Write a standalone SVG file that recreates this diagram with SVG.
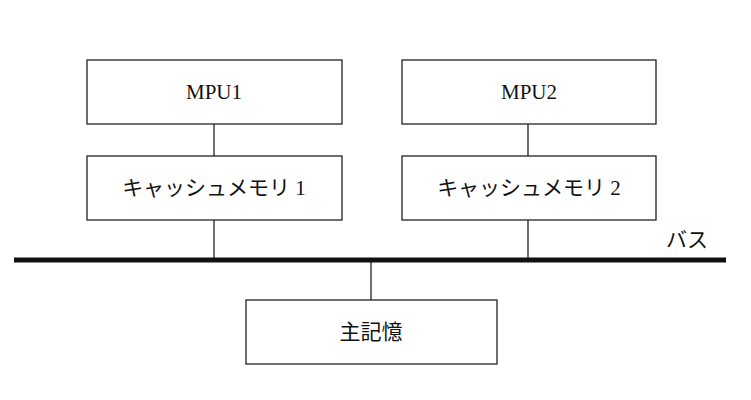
<svg xmlns="http://www.w3.org/2000/svg" width="751" height="400" viewBox="0 0 751 400">
<style>
.box{fill:#fff;stroke:#222;stroke-width:1.3}
.t{font-family:"Liberation Serif","Noto Sans CJK JP",serif;font-size:21px;fill:#111;text-anchor:middle;dominant-baseline:central}
.c{stroke:#222;stroke-width:1.3;fill:none}
</style>
<rect width="751" height="400" fill="#fff"/>
<g id="connectors">
<line class="c" x1="214" y1="124" x2="214" y2="156"/>
<line class="c" x1="214" y1="220" x2="214" y2="260"/>
<line class="c" x1="528" y1="124" x2="528" y2="156"/>
<line class="c" x1="528" y1="220" x2="528" y2="260"/>
<line class="c" x1="371" y1="260" x2="371" y2="300"/>
<line x1="14" y1="260" x2="726" y2="260" stroke="#111" stroke-width="5"/>
</g>
<g id="mpu1"><rect class="box" x="87" y="60" width="255" height="64"/><text class="t" x="214" y="92">MPU1</text></g>
<g id="mpu2"><rect class="box" x="402" y="60" width="254" height="64"/><text class="t" x="529" y="92">MPU2</text></g>
<g id="cache1"><rect class="box" x="87" y="156" width="255" height="64"/><text class="t" x="214" y="188">キャッシュメモリ 1</text></g>
<g id="cache2"><rect class="box" x="402" y="156" width="254" height="64"/><text class="t" x="529" y="188">キャッシュメモリ 2</text></g>
<g id="mem"><rect class="box" x="246" y="300" width="251" height="64"/><text class="t" x="371" y="332">主記憶</text></g>
<g id="bus"><text class="t" x="687" y="240">バス</text></g>
</svg>
